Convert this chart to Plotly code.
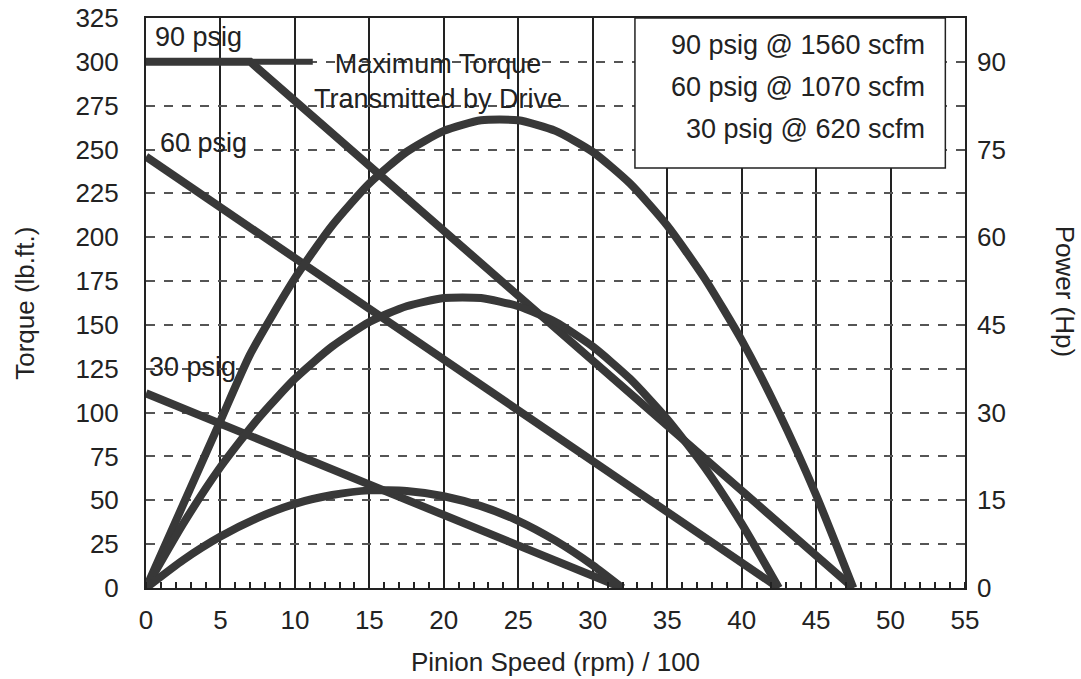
import plotly.graph_objects as go

# pinion speed (rpm / 100) and torque (lb.ft.) per supply pressure
torque_speed_90 = [0, 7, 47.5]
torque_90 = [300, 300, 0]
torque_speed_60 = [0, 42.5]
torque_60 = [246, 0]
torque_speed_30 = [0, 32]
torque_30 = [111, 0]

# power (Hp) per supply pressure
power_speed_90 = [0, 2.5, 5, 7, 10, 12.5, 15, 17.5, 20, 22.5, 25, 27.5, 30, 32.5, 35, 37.5, 40, 42.5, 45, 47.5]
power_90 = [0, 14.3, 28.6, 40.0, 53.0, 62.0, 69.2, 74.6, 78.2, 80.0, 80.0, 78.2, 74.6, 69.2, 62.0, 53.0, 42.4, 30.0, 15.9, 0]
power_speed_60 = [0, 2.5, 5, 7.5, 10, 12.5, 15, 17.5, 20, 22.5, 25, 27.5, 30, 32.5, 35, 37.5, 40, 42.5]
power_60 = [0, 11.0, 20.7, 28.9, 35.8, 41.3, 45.5, 48.2, 49.6, 49.6, 48.2, 45.5, 41.3, 35.8, 28.9, 20.7, 11.0, 0]
power_speed_30 = [0, 2.5, 5, 7.5, 10, 12.5, 15, 17.5, 20, 22.5, 25, 27.5, 30, 32]
power_30 = [0, 4.8, 8.8, 12.0, 14.4, 15.9, 16.7, 16.6, 15.7, 14.0, 11.5, 8.1, 3.9, 0]

# leader from the torque limit to its note
leader_speed = [7, 11.2]
leader_torque = [300, 300]

torque_ticks = list(range(0, 326, 25))
power_ticks = [0, 15, 30, 45, 60, 75, 90]
speed_ticks = list(range(0, 56, 5))
legend_lines = ["90 psig @ 1560 scfm", "60 psig @ 1070 scfm", "30 psig @ 620 scfm"]

FONT = "Liberation Sans, Arial, sans-serif"
INK = "#222222"
CURVE = "#383838"

fig = go.Figure()

for xs, ys in [(torque_speed_90, torque_90), (torque_speed_60, torque_60), (torque_speed_30, torque_30)]:
    fig.add_trace(go.Scatter(x=xs, y=ys, mode="lines", line=dict(color=CURVE, width=8),
                             showlegend=False, hoverinfo="skip"))

for xs, ys in [(power_speed_90, power_90), (power_speed_60, power_60), (power_speed_30, power_30)]:
    fig.add_trace(go.Scatter(x=xs, y=ys, yaxis="y2", mode="lines",
                             line=dict(color=CURVE, width=8, shape="spline", smoothing=0.6),
                             showlegend=False, hoverinfo="skip"))

fig.add_trace(go.Scatter(x=leader_speed, y=leader_torque, mode="lines",
                         line=dict(color=CURVE, width=6), showlegend=False, hoverinfo="skip"))

fig.update_layout(
    width=1081, height=679,
    margin=dict(l=146, r=116, t=18, b=91),
    paper_bgcolor="white", plot_bgcolor="white",
    font=dict(family=FONT, size=26, color=INK),
    xaxis=dict(range=[0, 55], tickvals=speed_ticks, showgrid=True, gridcolor=INK, gridwidth=1.5,
               zeroline=False, showline=True, mirror=True, linecolor=INK, linewidth=2,
               ticks="", ticklabelstandoff=8, automargin=False,
               minor=dict(dtick=1, ticks="inside", ticklen=6, tickcolor=INK, tickwidth=1.5, showgrid=False)),
    yaxis=dict(range=[0, 325], tickvals=torque_ticks, showgrid=True, gridcolor="#555555", gridwidth=1.5,
               griddash="dash", zeroline=False, showline=True, mirror=True, linecolor=INK, linewidth=2,
               ticks="", ticklabelstandoff=20, automargin=False, ticklabeloverflow="allow"),
    yaxis2=dict(range=[0, 97.5], tickvals=power_ticks, overlaying="y", side="right", showgrid=False,
                zeroline=False, showline=False, ticks="", ticklabelstandoff=11, automargin=False),
)

# legend box in the upper right
fig.add_shape(type="rect", xref="paper", yref="paper", x0=0.597, x1=0.976, y0=0.737, y1=1.0,
              line=dict(color=INK, width=1.5), fillcolor="white", layer="above")
for i, txt in enumerate(legend_lines):
    fig.add_annotation(text=txt, xref="paper", yref="paper", x=0.953, y=0.952 - i * 0.073,
                       xanchor="right", yanchor="middle", showarrow=False, font=dict(size=27))

# curve labels
fig.add_annotation(text="90 psig", x=0.5, y=314, xanchor="left", yanchor="middle", showarrow=False,
                   font=dict(size=27))
fig.add_annotation(text="60 psig", x=0.8, y=254, xanchor="left", yanchor="middle", showarrow=False,
                   font=dict(size=27))
fig.add_annotation(text="30 psig", x=0.1, y=126, xanchor="left", yanchor="middle", showarrow=False,
                   font=dict(size=27))
fig.add_annotation(text="Maximum Torque<br>Transmitted by Drive", x=19.6, y=289, xanchor="center",
                   yanchor="middle", showarrow=False, align="center", font=dict(size=27))

# axis titles
fig.add_annotation(text="Torque (lb.ft.)", xref="paper", yref="paper", x=-0.148, y=0.5,
                   textangle=-90, showarrow=False, xanchor="center", yanchor="middle")
fig.add_annotation(text="Power (Hp)", xref="paper", yref="paper", x=1.122, y=0.52,
                   textangle=90, showarrow=False, xanchor="center", yanchor="middle")
fig.add_annotation(text="Pinion Speed (rpm) / 100", xref="paper", yref="paper", x=0.5, y=-0.13,
                   showarrow=False, xanchor="center", yanchor="middle")

# drop the default page margin so the figure sits at the window's corner
fig.write_html("out.html", config={"displayModeBar": False},
               post_script="document.body.style.margin='0';")
